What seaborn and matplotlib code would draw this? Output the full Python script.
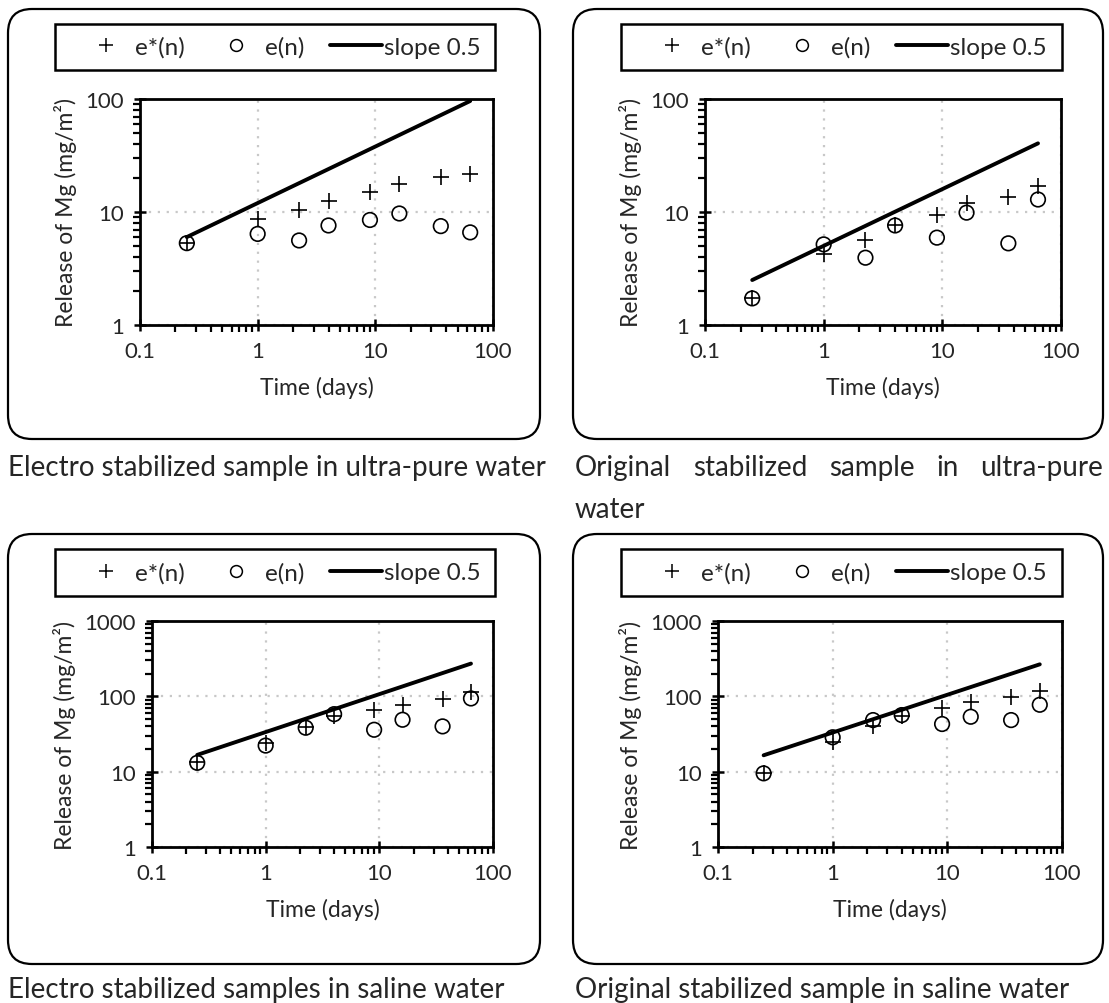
import matplotlib
matplotlib.use("Agg")
import matplotlib.pyplot as plt
import matplotlib.ticker as mticker
from matplotlib.patches import FancyBboxPatch, Rectangle
from matplotlib.lines import Line2D
from matplotlib.transforms import IdentityTransform
import seaborn as sns
import pandas as pd

# ---------------- data ----------------
time_days = [0.25, 1, 2.25, 4, 9, 16, 36, 64]
slope_x = [0.25, 64]

# Electro stabilized, ultra-pure water
p1_estar = [5.3, 8.6, 10.4, 12.4, 15.1, 17.7, 20.3, 21.8]
p1_e = [5.3, 6.4, 5.6, 7.6, 8.5, 9.7, 7.5, 6.6]
p1_slope = [6.0, 96.0]

# Original stabilized, ultra-pure water
p2_estar = [1.72, 4.25, 5.65, 7.6, 9.4, 11.9, 13.7, 17.0]
p2_e = [1.72, 5.17, 3.94, 7.6, 5.93, 9.87, 5.28, 12.9]
p2_slope = [2.5, 40.5]

# Electro stabilized, saline water
p3_estar = [13.3, 23.8, 39.5, 55.2, 65.7, 76.5, 91.8, 115.0]
p3_e = [13.1, 22.2, 38.3, 58.0, 36.0, 48.9, 39.9, 93.7]
p3_slope = [16.7, 272.0]

# Original stabilized, saline water
p4_estar = [9.5, 24.5, 40.7, 55.2, 69.0, 83.0, 98.6, 116.0]
p4_e = [9.5, 28.6, 48.4, 56.4, 42.9, 53.6, 48.4, 77.3]
p4_slope = [16.5, 266.0]

captions = ["Electro stabilized sample in ultra-pure water",
            "Original stabilized sample in ultra-pure water",
            "Electro stabilized samples in saline water",
            "Original stabilized sample in saline water"]
legend_labels = ["e*(n)", "e(n)", "slope 0.5"]
x_label = "Time (days)"
y_label = "Release of Mg (mg/m\u00b2)"

# ---------------- style ----------------
sns.set_theme(style="white")
plt.rcParams['font.family'] = ['Lato', 'DejaVu Sans']
plt.rcParams['mathtext.default'] = 'regular'

W, H = 1109, 1004
fig = plt.figure(figsize=(W / 100, H / 100), dpi=100)


def fr(x0, y0, x1, y1):
    """pixel box (top-left origin) -> figure fraction rect"""
    return [x0 / W, 1 - y1 / H, (x1 - x0) / W, (y1 - y0) / H]


panels = [
    dict(estar=p1_estar, e=p1_e, slope=p1_slope, ymax=100,
         ax=(140, 100, 493, 326), box=(8, 10, 540, 440), leg=(55, 25, 495, 71)),
    dict(estar=p2_estar, e=p2_e, slope=p2_slope, ymax=100,
         ax=(705, 100, 1061, 326), box=(573, 10, 1103, 440), leg=(621, 25, 1062, 71)),
    dict(estar=p3_estar, e=p3_e, slope=p3_slope, ymax=1000,
         ax=(152, 622, 493, 848), box=(8, 535, 540, 965), leg=(55, 550, 495, 597)),
    dict(estar=p4_estar, e=p4_e, slope=p4_slope, ymax=1000,
         ax=(718, 622, 1062, 848), box=(573, 535, 1103, 965), leg=(621, 550, 1062, 597)),
]

for p in panels:
    # rounded outer frame
    bx0, by0, bx1, by1 = p["box"]
    patch = FancyBboxPatch((bx0, H - by1), bx1 - bx0, by1 - by0,
                           boxstyle="round,pad=0,rounding_size=24",
                           transform=IdentityTransform(), fill=False,
                           edgecolor="black", linewidth=1.6, zorder=0)
    fig.patches.append(patch)

    ax = fig.add_axes(fr(*p["ax"]))
    df = pd.DataFrame({"t": time_days, "estar": p["estar"], "e": p["e"]})
    dline = pd.DataFrame({"t": slope_x, "s": p["slope"]})

    sns.lineplot(data=dline, x="t", y="s", ax=ax, color="black", linewidth=2.8, zorder=3)
    sns.scatterplot(data=df, x="t", y="e", ax=ax, marker="o", s=110,
                    facecolors="none", edgecolor="black", linewidth=1.2, zorder=4)
    sns.scatterplot(data=df, x="t", y="estar", ax=ax, marker="+", s=120,
                    color="black", linewidth=1.2, zorder=5)

    ax.set_xscale("log")
    ax.set_yscale("log")
    ax.set_xlim(0.1, 100)
    ax.set_ylim(1, p["ymax"])
    fmt = mticker.FuncFormatter(lambda v, pos: ("%g" % v))
    ax.xaxis.set_major_locator(mticker.LogLocator(base=10))
    ax.yaxis.set_major_locator(mticker.LogLocator(base=10))
    ax.xaxis.set_major_formatter(fmt)
    ax.yaxis.set_major_formatter(fmt)
    ax.xaxis.set_minor_locator(mticker.LogLocator(base=10, subs=range(2, 10)))
    ax.yaxis.set_minor_locator(mticker.LogLocator(base=10, subs=range(2, 10)))
    ax.xaxis.set_minor_formatter(mticker.NullFormatter())
    ax.yaxis.set_minor_formatter(mticker.NullFormatter())

    ax.grid(True, which="major", color="#c8c8c8", linestyle=(0, (1, 3)), linewidth=1.6)
    ax.grid(False, which="minor")
    for s in ax.spines.values():
        s.set_color("black")
        s.set_linewidth(2.0)
    ax.tick_params(which="major", direction="inout", length=9, width=1.8,
                   labelsize=16, color="black", bottom=True, left=True, pad=7)
    ax.tick_params(which="minor", direction="out", length=5, width=1.6,
                   color="black", bottom=True, left=True)
    ax.set_xlabel(x_label, fontsize=16.5, labelpad=11)
    ax.set_ylabel(y_label, fontsize=16.5, labelpad=6)
    if ax.get_legend():
        ax.get_legend().remove()

    # legend: frame drawn as rectangle, entries placed inside
    lx0, ly0, lx1, ly1 = p["leg"]
    fig.patches.append(Rectangle((lx0, H - ly1), lx1 - lx0, ly1 - ly0,
                                 transform=IdentityTransform(), fill=False,
                                 edgecolor="black", linewidth=1.8, zorder=1))
    handles = [Line2D([], [], marker="+", linestyle="none", color="black",
                      markersize=10, markeredgewidth=1.1),
               Line2D([], [], marker="o", linestyle="none", markerfacecolor="none",
                      markeredgecolor="black", markersize=8.5, markeredgewidth=1.1),
               Line2D([], [], color="black", linewidth=2.8)]
    fig.legend(handles, legend_labels, loc="center left",
               bbox_to_anchor=((lx0 + 25) / W, 1 - ((ly0 + ly1) / 2) / H),
               ncol=3, fontsize=17.5, frameon=False,
               handlelength=2.15, handletextpad=0.1, columnspacing=1.05,
               borderaxespad=0, borderpad=0)

# captions
cap_fs = 20
fig.text(8 / W, 1 - 468 / H, captions[0], fontsize=cap_fs, va="center", ha="left")
fig.text(8 / W, 1 - 990 / H, captions[2], fontsize=cap_fs, va="center", ha="left")
fig.text(575 / W, 1 - 990 / H, captions[3], fontsize=cap_fs, va="center", ha="left")

# justified caption for panel 2 (wraps onto two lines)
words = captions[1].split(" ")
line1, line2 = words[:-1], words[-1:]
renderer = fig.canvas.get_renderer()
txts = [fig.text(0, 1 - 468 / H, w, fontsize=cap_fs, va="center", ha="left") for w in line1]
widths = [t.get_window_extent(renderer).width for t in txts]
x_start, x_end = 575, 1103
gap = (x_end - x_start - sum(widths)) / (len(line1) - 1)
xpos = x_start
for t, wd in zip(txts, widths):
    t.set_x(xpos / W)
    xpos += wd + gap
fig.text(575 / W, 1 - 510 / H, line2[0], fontsize=cap_fs, va="center", ha="left")

fig.savefig("out.png", dpi=100)
